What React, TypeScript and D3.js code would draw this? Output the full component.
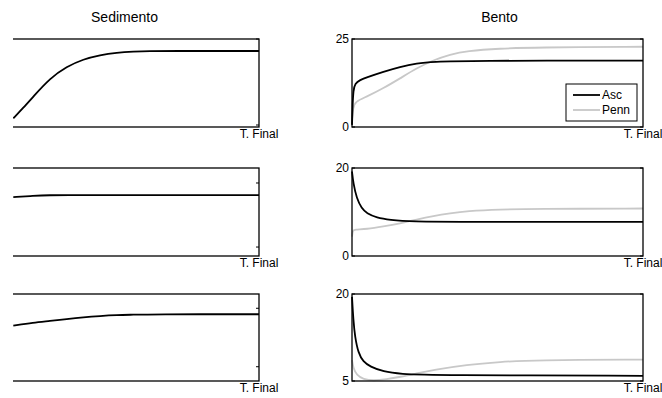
import React from 'react';
import * as d3 from 'd3';

const W = 662;
const H = 398;
const FONT = '"Liberation Sans", Arial, sans-serif';

// sediment panels (left column, y labels fall outside the crop)
const sedTime1 = [8.66, 12.4, 16.1, 22.3, 28.5, 34.7, 40.9, 47.1, 53.3, 59.5, 65.8, 100];
const sed1 = [4.35, 9.6, 15.2, 24.35, 30.2, 33.9, 36, 37.2, 37.7, 38, 38, 38];
const sedTime2 = [8.66, 16.1, 22.3, 28.5, 40.9, 100];
const sed2 = [0.39, 0.4, 0.405, 0.406, 0.406, 0.406];
const sedTime3 = [8.66, 16.1, 22.3, 28.5, 34.7, 40.9, 47.1, 53.3, 59.5, 100];
const sed3 = [0.351, 0.377, 0.391, 0.408, 0.423, 0.434, 0.442, 0.445, 0.449, 0.449];

// benthos panels (right column)
const ascTime1 = [0, 0.2, 0.46, 1.03, 2.75, 5.04, 10.8, 16.5, 22.2, 28, 39.4, 100];
const asc1 = [0.6, 6, 10.5, 12.4, 13.35, 14.1, 15.7, 17.1, 18.1, 18.55, 18.85, 18.85];
const pennTime1 = [0, 0.4, 1.03, 5.04, 10.77, 16.5, 22.2, 28, 33.7, 39.4, 50.9, 62.3, 100];
const penn1 = [2, 5.5, 7.2, 8.6, 11, 13.8, 16.7, 19, 20.6, 21.6, 22.3, 22.6, 22.8];

const ascTime2 = [0, 0.46, 1.6, 3.32, 5.04, 8.48, 13.06, 19.93, 39.4, 100];
const asc2 = [19.2, 16.5, 13.1, 10.8, 9.7, 8.7, 8.2, 7.8, 7.75, 7.75];
const pennTime2 = [0, 0.3, 0.7, 5.04, 10.77, 16.5, 22.2, 28, 33.7, 39.4, 50.9, 62.3, 100];
const penn2 = [4.4, 5.8, 6.05, 6.1, 6.7, 7.4, 8.3, 9.1, 9.7, 10.2, 10.6, 10.7, 10.8];

const ascTime3 = [0, 0.46, 1.03, 2.18, 3.89, 6.19, 10.77, 16.5, 28, 100];
const asc3 = [19.5, 15.5, 12.6, 9.8, 8.3, 7.5, 6.6, 6.2, 6.0, 5.9];
const pennTime3 = [0, 0.46, 1.6, 3.89, 7.33, 11.9, 16.5, 22.2, 28, 39.4, 50.9, 62.3, 100];
const penn3 = [8.6, 7.2, 6.0, 5.3, 5.05, 5.3, 5.7, 6.3, 6.9, 7.8, 8.3, 8.6, 8.7];

const titles = ['Sedimento', 'Bento'];
const xTickLabel = 'T. Final';
const seriesNames = ['Asc', 'Penn'];
const seriesColors = ['#000000', '#c8c8c8'];

const rowsY = [[39, 127], [168, 256], [294, 381]];
const leftX = [-10, 259];
const rightX = [352, 643];
const clipLeft = 13;

const sedDomains = [[0, 44], [-0.07, 0.617], [-0.122, 0.622]];
const sedTicks = [[1, 44], [0, 0.5], [0, 0.5]];
const bentoDomains = [[0, 25], [0, 20], [5, 20]];

const zip = (t: number[], v: number[]) => t.map((d, i) => [d, v[i]] as [number, number]);

const sedSeries = [zip(sedTime1, sed1), zip(sedTime2, sed2), zip(sedTime3, sed3)];
const bentoSeries = [
  [zip(ascTime1, asc1), zip(pennTime1, penn1)],
  [zip(ascTime2, asc2), zip(pennTime2, penn2)],
  [zip(ascTime3, asc3), zip(pennTime3, penn3)],
];

type PanelProps = {
  xr: number[];
  yr: number[];
  domain: number[];
  ticks: number[];
  series: [number, number][][];
  colors: string[];
  showLabels: boolean;
  clipId?: string;
};

const Panel = ({ xr, yr, domain, ticks, series, colors, showLabels, clipId }: PanelProps) => {
  const x = d3.scaleLinear().domain([0, 100]).range(xr);
  const y = d3.scaleLinear().domain(domain).range([yr[1], yr[0]]);
  const line = d3.line<[number, number]>()
    .x(d => x(d[0]))
    .y(d => y(d[1]))
    .curve(d3.curveBasis);
  const clip = clipId ? `url(#${clipId})` : undefined;
  return (
    <g>
      <g clipPath={clip}>
        {series.map((s, i) => (
          <path key={i} d={line(s) || ''} fill="none" stroke={colors[i]} strokeWidth={1.8} />
        )).reverse()}
        <rect x={x(0)} y={y(domain[1])} width={x(100) - x(0)} height={y(domain[0]) - y(domain[1])}
          fill="none" stroke="#000" strokeWidth={1.3} />
        {ticks.map(t => (
          <g key={t}>
            <line x1={x(0)} x2={x(0) + 3} y1={y(t)} y2={y(t)} stroke="#000" />
            <line x1={x(100)} x2={x(100) - 3} y1={y(t)} y2={y(t)} stroke="#000" />
          </g>
        ))}
      </g>
      {showLabels && ticks.map(t => (
        <text key={t} x={x(0) - 3} y={y(t)} dy="0.35em" textAnchor="end" fontSize={12} fontFamily={FONT}>
          {d3.format('d')(t)}
        </text>
      ))}
      <text x={x(100)} y={yr[1] + 11} textAnchor="middle" fontSize={12} fontFamily={FONT}>{xTickLabel}</text>
    </g>
  );
};

export default function App() {
  return (
    <svg width={W} height={H} style={{ position: 'absolute', left: 0, top: 0, background: '#fff' }}>
      <defs>
        <clipPath id="sedclip">
          <rect x={clipLeft} y={0} width={W} height={H} />
        </clipPath>
      </defs>
      <text x={(leftX[0] + leftX[1]) / 2} y={22} textAnchor="middle" fontSize={14} fontFamily={FONT}>{titles[0]}</text>
      <text x={(rightX[0] + rightX[1]) / 2 + 2} y={22} textAnchor="middle" fontSize={14} fontFamily={FONT}>{titles[1]}</text>
      {rowsY.map((yr, i) => (
        <Panel key={'s' + i} xr={leftX} yr={yr} domain={sedDomains[i]} ticks={sedTicks[i]}
          series={[sedSeries[i]]} colors={[seriesColors[0]]} showLabels={false} clipId="sedclip" />
      ))}
      {rowsY.map((yr, i) => (
        <Panel key={'b' + i} xr={rightX} yr={yr} domain={bentoDomains[i]} ticks={bentoDomains[i]}
          series={bentoSeries[i]} colors={seriesColors} showLabels={true} />
      ))}
      <g>
        <rect x={566} y={84} width={71} height={37} fill="#fff" stroke="#000" strokeWidth={1} />
        {seriesNames.map((n, i) => (
          <g key={n}>
            <line x1={573} x2={600} y1={95 + i * 15} y2={95 + i * 15} stroke={seriesColors[i]} strokeWidth={1.8} />
            <text x={602} y={95 + i * 15} dy="0.35em" fontSize={12} fontFamily={FONT}>{n}</text>
          </g>
        ))}
      </g>
    </svg>
  );
}
